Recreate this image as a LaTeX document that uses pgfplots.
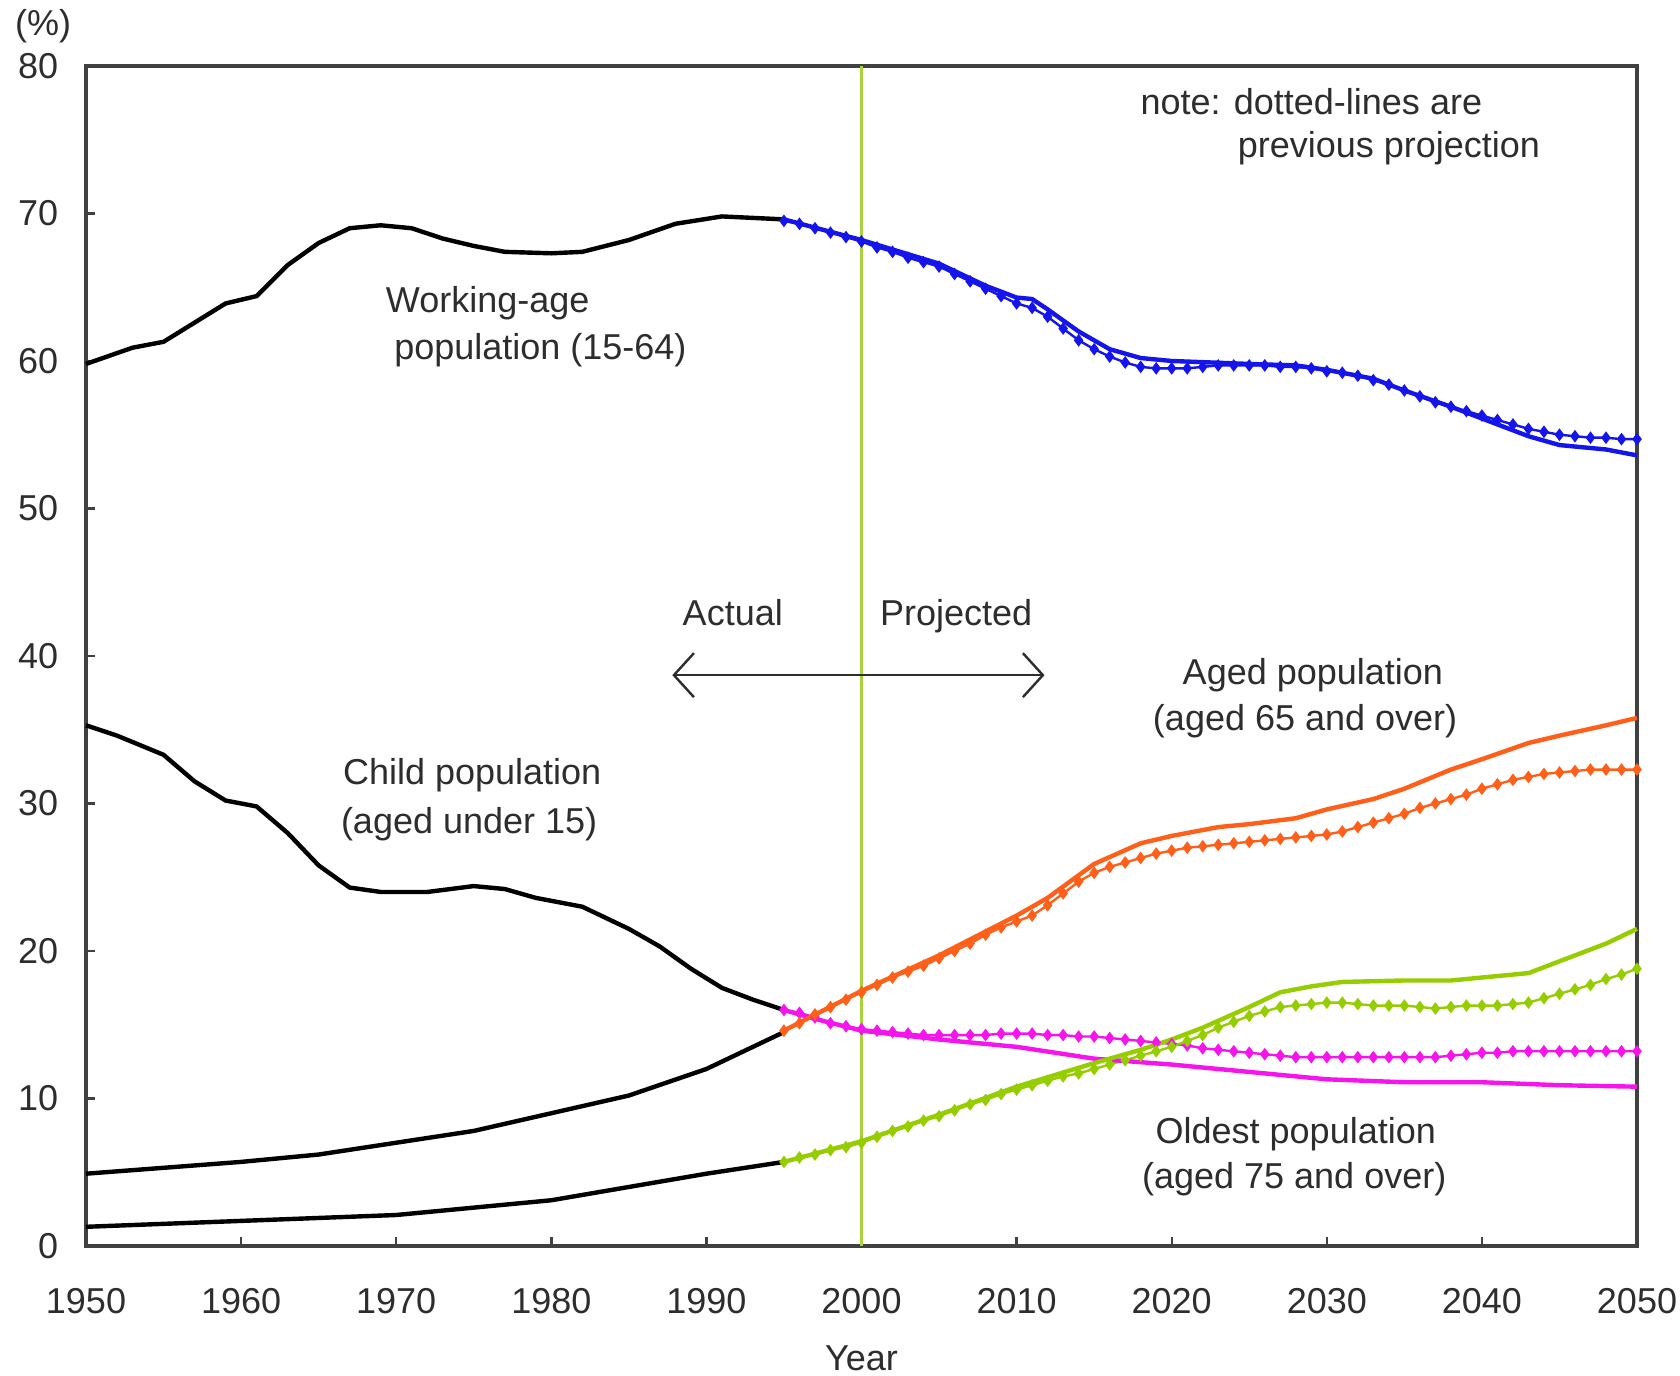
\documentclass[border=0pt]{standalone}
\usepackage{pgfplots}
\pgfplotsset{compat=1.18}
\usepackage{fontspec}
\setmainfont{Liberation Sans}
\usetikzlibrary{arrows.meta}

\definecolor{cblue}{RGB}{20,20,235}
\definecolor{corange}{RGB}{255,95,25}
\definecolor{cmag}{RGB}{245,20,235}
\definecolor{cgreen}{RGB}{150,205,0}
\definecolor{vline}{RGB}{170,210,60}
\definecolor{txt}{RGB}{45,45,45}

\begin{document}
\begin{tikzpicture}
\useasboundingbox (-21.5pt,-32.5pt) rectangle (398.5pt,311.5pt);
\begin{axis}[
    at={(0,0)}, anchor=south west,
    scale only axis,
    width=387.75pt, height=295pt,
    xmin=1950, xmax=2050, ymin=0, ymax=80,
    xtick={1950,1960,...,2050}, ytick={0,10,...,80},
    xtick pos=left, ytick pos=left,
    tick align=inside, major tick length=2.2pt,
    axis line style={black!75, line width=0.8pt},
    every tick/.style={black!75, line width=0.6pt},
    font=\fontsize{9}{11}\selectfont,
    tick label style={text=txt},
    /pgf/number format/1000 sep={},
    /pgf/number format/assume math mode=true,
    xticklabel style={yshift=-7pt},
    yticklabel style={xshift=-3.4pt},
    xlabel={Year},
    xlabel style={at={(axis description cs:0.5,0)}, anchor=center, yshift=-28pt, text=txt},
    clip=false,
    prev/.style={line width=0.6pt, mark=diamond*, mark size=1.1pt},
]
% projection boundary
\addplot[vline, line width=0.6pt] coordinates {(2000,0) (2000,80)};

% actual (black)
\addplot[black, line width=1.1pt] coordinates {
(1950,59.8) (1953,60.9) (1955,61.3) (1957,62.6) (1959,63.9) (1961,64.4) (1963,66.5)
(1965,68.0) (1967,69.0) (1969,69.2) (1971,69.0) (1973,68.3) (1975,67.8) (1977,67.4)
(1980,67.3) (1982,67.4) (1985,68.2) (1988,69.3) (1991,69.8) (1995,69.6)};
\addplot[black, line width=1.1pt] coordinates {
(1950,35.3) (1952,34.6) (1955,33.3) (1957,31.5) (1959,30.2) (1961,29.8) (1963,28.0)
(1965,25.8) (1967,24.3) (1969,24.0) (1972,24.0) (1975,24.4) (1977,24.2) (1979,23.6)
(1982,23.0) (1985,21.5) (1987,20.3) (1989,18.8) (1991,17.5) (1993,16.7) (1995,16.0)};
\addplot[black, line width=1.1pt] coordinates {
(1950,4.9) (1955,5.3) (1960,5.7) (1965,6.2) (1970,7.0) (1975,7.8) (1980,9.0)
(1985,10.2) (1990,12.0) (1993,13.5) (1995,14.5)};
\addplot[black, line width=1.1pt] coordinates {
(1950,1.3) (1955,1.5) (1960,1.7) (1965,1.9) (1970,2.1) (1975,2.6) (1980,3.1)
(1985,4.0) (1990,4.9) (1995,5.7)};

% previous projection (dotted with marks)
\addplot[cblue, prev] coordinates {
(1995,69.5) (1996,69.3) (1997,69.0) (1998,68.7) (1999,68.4) (2000,68.1) (2001,67.7)
(2002,67.4) (2003,67.0) (2004,66.7) (2005,66.4) (2006,65.9) (2007,65.4) (2008,64.9)
(2009,64.4) (2010,63.9) (2011,63.6) (2012,63.0) (2013,62.2) (2014,61.4) (2015,60.8)
(2016,60.3) (2017,59.9) (2018,59.6) (2019,59.5) (2020,59.5) (2021,59.5) (2022,59.6)
(2023,59.7) (2024,59.7) (2025,59.7) (2026,59.7) (2027,59.6) (2028,59.6) (2029,59.5)
(2030,59.3) (2031,59.2) (2032,59.0) (2033,58.7) (2034,58.4) (2035,58.0) (2036,57.6)
(2037,57.2) (2038,56.9) (2039,56.6) (2040,56.3) (2041,56.0) (2042,55.7) (2043,55.4)
(2044,55.2) (2045,55.0) (2046,54.9) (2047,54.8) (2048,54.8) (2049,54.7) (2050,54.7)};
\addplot[cmag, prev] coordinates {
(1995,16.0) (1996,15.8) (1997,15.5) (1998,15.1) (1999,14.9) (2000,14.7) (2001,14.6)
(2002,14.5) (2003,14.4) (2004,14.3) (2005,14.3) (2006,14.3) (2007,14.3) (2008,14.3)
(2009,14.4) (2010,14.4) (2011,14.4) (2012,14.3) (2013,14.3) (2014,14.2) (2015,14.2)
(2016,14.1) (2017,14.0) (2018,13.9) (2019,13.8) (2020,13.7) (2021,13.6) (2022,13.4)
(2023,13.3) (2024,13.2) (2025,13.1) (2026,13.0) (2027,12.9) (2028,12.8) (2029,12.8)
(2030,12.8) (2031,12.8) (2032,12.8) (2033,12.8) (2034,12.8) (2035,12.8) (2036,12.8)
(2037,12.8) (2038,12.9) (2039,13.0) (2040,13.1) (2041,13.1) (2042,13.2) (2043,13.2)
(2044,13.2) (2045,13.2) (2046,13.2) (2047,13.2) (2048,13.2) (2049,13.2) (2050,13.2)};
\addplot[corange, prev] coordinates {
(1995,14.6) (1996,15.1) (1997,15.7) (1998,16.2) (1999,16.7) (2000,17.2) (2001,17.7)
(2002,18.2) (2003,18.6) (2004,19.0) (2005,19.5) (2006,20.0) (2007,20.5) (2008,21.1)
(2009,21.6) (2010,22.0) (2011,22.4) (2012,23.1) (2013,23.9) (2014,24.7) (2015,25.3)
(2016,25.7) (2017,26.0) (2018,26.3) (2019,26.6) (2020,26.8) (2021,27.0) (2022,27.1)
(2023,27.2) (2024,27.3) (2025,27.4) (2026,27.5) (2027,27.6) (2028,27.7) (2029,27.8)
(2030,27.9) (2031,28.1) (2032,28.4) (2033,28.7) (2034,29.0) (2035,29.3) (2036,29.7)
(2037,30.0) (2038,30.3) (2039,30.6) (2040,31.0) (2041,31.3) (2042,31.6) (2043,31.8)
(2044,32.0) (2045,32.1) (2046,32.2) (2047,32.3) (2048,32.3) (2049,32.3) (2050,32.3)};
\addplot[cgreen, prev] coordinates {
(1995,5.7) (1996,6.0) (1997,6.2) (1998,6.5) (1999,6.7) (2000,7.0) (2001,7.4)
(2002,7.8) (2003,8.1) (2004,8.5) (2005,8.8) (2006,9.2) (2007,9.6) (2008,9.9)
(2009,10.3) (2010,10.6) (2011,10.9) (2012,11.2) (2013,11.5) (2014,11.7) (2015,12.0)
(2016,12.3) (2017,12.6) (2018,12.9) (2019,13.2) (2020,13.5) (2021,13.9) (2022,14.3)
(2023,14.8) (2024,15.2) (2025,15.6) (2026,15.9) (2027,16.2) (2028,16.3) (2029,16.4)
(2030,16.5) (2031,16.5) (2032,16.4) (2033,16.3) (2034,16.3) (2035,16.3) (2036,16.2)
(2037,16.1) (2038,16.2) (2039,16.3) (2040,16.3) (2041,16.3) (2042,16.4) (2043,16.5)
(2044,16.8) (2045,17.1) (2046,17.4) (2047,17.7) (2048,18.1) (2049,18.4) (2050,18.8)};

% current projection (solid)
\addplot[cblue, line width=1.1pt] coordinates {
(1995,69.6) (2000,68.2) (2005,66.6) (2008,65.1) (2010,64.3) (2011,64.2) (2012,63.5)
(2014,62.0) (2016,60.8) (2018,60.2) (2020,60.0) (2025,59.8) (2028,59.7) (2030,59.4)
(2033,58.8) (2035,58.0) (2038,56.9) (2040,56.1) (2043,54.9) (2045,54.3) (2048,54.0)
(2050,53.6)};
\addplot[cmag, line width=1.1pt] coordinates {
(1995,16.0) (1997,15.4) (2000,14.6) (2005,14.0) (2010,13.5) (2015,12.7) (2020,12.3)
(2025,11.8) (2030,11.3) (2035,11.1) (2040,11.1) (2045,10.9) (2050,10.8)};
\addplot[corange, line width=1.1pt] coordinates {
(1995,14.6) (2000,17.3) (2005,19.7) (2010,22.4) (2012,23.6) (2015,25.9) (2018,27.3)
(2020,27.8) (2023,28.4) (2025,28.6) (2028,29.0) (2030,29.6) (2033,30.3) (2035,31.0)
(2038,32.3) (2040,33.0) (2043,34.1) (2045,34.6) (2048,35.3) (2050,35.8)};
\addplot[cgreen, line width=1.1pt] coordinates {
(1995,5.7) (2000,7.1) (2005,8.9) (2010,10.8) (2015,12.4) (2018,13.3) (2020,14.0)
(2022,14.8) (2025,16.2) (2027,17.2) (2029,17.6) (2031,17.9) (2035,18.0) (2038,18.0)
(2040,18.2) (2043,18.5) (2045,19.3) (2048,20.5) (2050,21.5)};

% annotations
\draw[txt, line width=0.6pt, {Straight Barb[length=5pt,width=11pt]}-{Straight Barb[length=5pt,width=11pt]}]
  (axis cs:1987.8,38.7) -- (axis cs:2011.8,38.7);
\begin{scope}[every node/.style={text=txt, inner sep=0pt}]
\node at (axis cs:1991.7,42.95) {Actual};
\node at (axis cs:2006.1,42.7) {Projected};
\node at (axis cs:1975.9,63.9) {Working-age};
\node at (axis cs:1979.3,60.7) {population (15-64)};
\node at (axis cs:1974.9,31.9) {Child population};
\node at (axis cs:1974.7,28.6) {(aged under 15)};
\node at (axis cs:2029.1,38.7) {Aged population};
\node at (axis cs:2028.6,35.6) {(aged 65 and over)};
\node at (axis cs:2028.0,7.6) {Oldest population};
\node at (axis cs:2027.9,4.5) {(aged 75 and over)};
\node at (axis cs:2029.0,77.6) {note: dotted-lines are};
\node at (axis cs:2034.0,74.4) {previous projection};
\node at ([xshift=-10.7pt,yshift=9.9pt]rel axis cs:0,1) {(\%)};
\end{scope}
\end{axis}
\end{tikzpicture}
\end{document}
